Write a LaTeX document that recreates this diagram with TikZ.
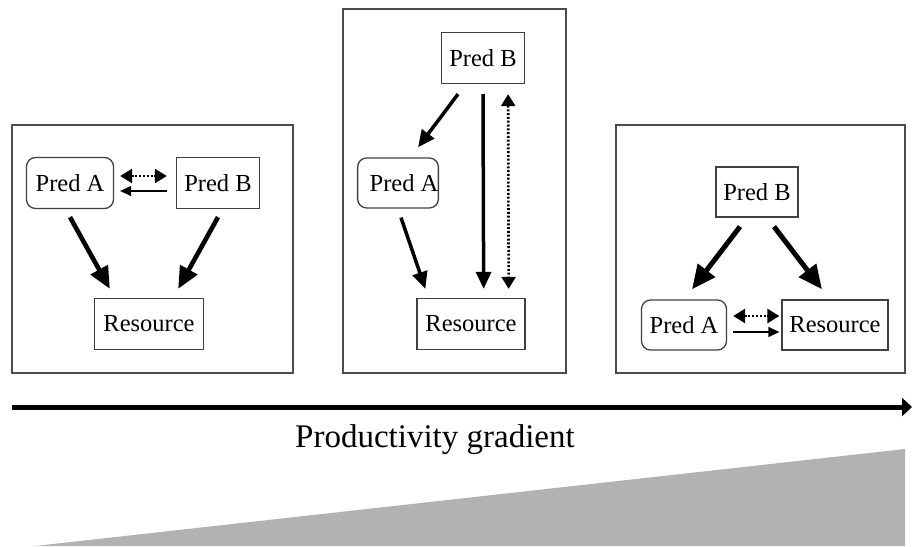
\documentclass[tikz,border=0pt]{standalone}
\usepackage{fontspec}
\setmainfont{Liberation Serif}
\usetikzlibrary{arrows.meta}

\begin{document}
\begin{tikzpicture}[x=1pt, y=-1pt,
    panel/.style={draw=black!70, line width=1.4pt},
    sqbox/.style={draw=black!75, line width=1.3pt, inner sep=0pt, minimum height=51pt, font=\fontsize{24.5}{28}\selectfont},
    rndbox/.style={sqbox, rounded corners=9pt},
    bigarrow/.style={line width=4.6pt, -{Triangle[length=22pt,width=19pt]}},
    midarrow/.style={line width=3.5pt, -{Triangle[length=17pt,width=15pt]}},
    thinarrow/.style={line width=1.3pt, -{Triangle[length=11pt,width=10pt]}},
    dotarrow/.style={line width=2.6pt, dash pattern=on 2pt off 1.8pt, {Triangle[length=12pt,width=14pt]}-{Triangle[length=12pt,width=14pt]}}]

      \useasboundingbox (0,0) rectangle (912,546);

      % Left panel
      \draw[panel] (12,125) rectangle (293,373);
      \node[rndbox, minimum width=87pt] (lA) at (70,183) {Pred A};
      \node[sqbox, minimum width=83pt] (lB) at (218,183) {Pred B};
      \node[sqbox, minimum width=109pt] (lR) at (149,324) {Resource};
      \draw[dotarrow] ([shift={(6pt,7pt)}]lA.east) -- ([shift={(-9pt,7pt)}]lB.west);
      \draw[thinarrow] ([shift={(-9pt,-8pt)}]lB.west) -- ([shift={(6pt,-8pt)}]lA.east);
      \draw[bigarrow] ([yshift=-8pt]lA.south) -- ([shift={(16pt,9pt)}]lR.north west);
      \draw[bigarrow] ([yshift=-8pt]lB.south) -- ([shift={(-26pt,9pt)}]lR.north east);

      % Middle panel
      \draw[panel] (343,9) rectangle (566,373);
      \node[sqbox, minimum width=83pt] (mB) at (483,58) {Pred B};
      \node[rndbox, minimum width=80pt, minimum height=50pt] (mA) at (398,183) {\hspace*{12pt}Pred A};
      \node[sqbox, minimum width=108pt] (mR) at (471,324) {Resource};
      \draw[midarrow] ([shift={(-25pt,-10pt)}]mB.south) -- ([shift={(20pt,10pt)}]mA.north);
      \draw[midarrow] ([shift={(3pt,-9pt)}]mA.south) -- ([shift={(9pt,9pt)}]mR.north west);
      \draw[midarrow] ([yshift=-10pt]mB.south) -- ([shift={(-42pt,9pt)}]mR.north east);
      \draw[dotarrow] ([shift={(-17pt,-10pt)}]mB.south east) -- ([shift={(-17pt,9pt)}]mR.north east);

      % Right panel
      \draw[panel] (616,125) rectangle (905,373);
      \node[sqbox, minimum width=82pt, minimum height=50pt] (rB) at (757,192) {Pred B};
      \node[rndbox, minimum width=85pt, minimum height=50pt] (rA) at (684,325) {Pred A};
      \node[sqbox, minimum width=106pt, minimum height=50pt] (rR) at (835,325) {Resource};
      \draw[bigarrow, line width=5pt, -{Triangle[length=24pt,width=21pt]}] ([shift={(-17pt,-9pt)}]rB.south) -- ([shift={(8pt,10pt)}]rA.north);
      \draw[bigarrow, line width=5pt, -{Triangle[length=24pt,width=21pt]}] ([shift={(17pt,-9pt)}]rB.south) -- ([shift={(-13pt,10pt)}]rR.north);
      \draw[dotarrow] ([shift={(6pt,9pt)}]rA.east) -- ([shift={(-2pt,9pt)}]rR.west);
      \draw[thinarrow] ([shift={(6pt,-7pt)}]rA.east) -- ([shift={(-2pt,-7pt)}]rR.west);

      % Gradient
      \coordinate (gs) at (12,407);
      \coordinate (ge) at (912,407);
      \draw[line width=5pt, -{Triangle[length=10pt,width=18pt]}] (gs) -- (ge);
      \node[font=\fontsize{33}{38}\selectfont] (grad) at (435,440) {Productivity gradient};
      \fill[black!30] (35,546) -- (905,449) -- (905,546) -- cycle;

\end{tikzpicture}
\end{document}
